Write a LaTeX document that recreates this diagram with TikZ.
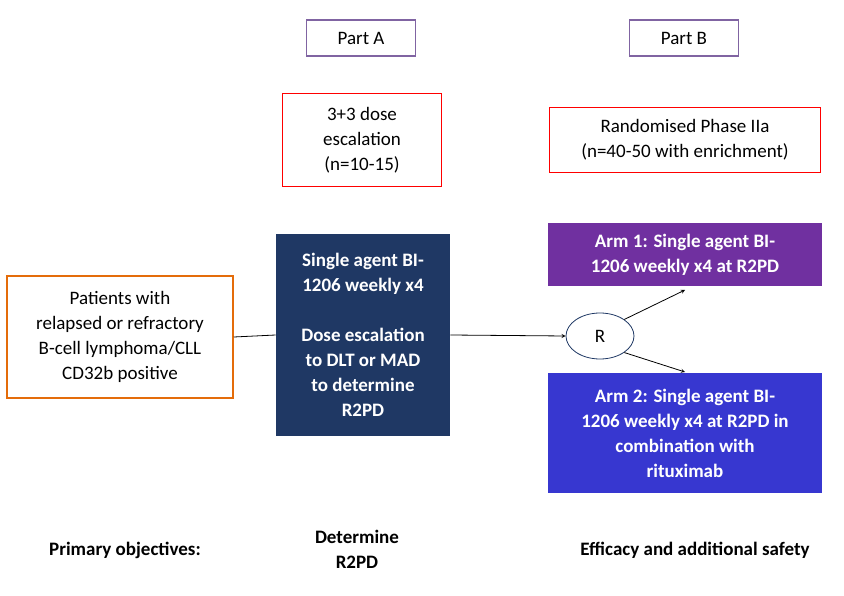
\documentclass[tikz,border=0pt]{standalone}
\usepackage{fontspec}
\setmainfont{Carlito}
\usetikzlibrary{positioning,shapes.geometric}
\definecolor{partpurple}{HTML}{8064A2}
\definecolor{navy}{HTML}{1F3864}
\definecolor{armone}{HTML}{7030A0}
\definecolor{armtwo}{HTML}{3737D0}
\definecolor{ptorange}{HTML}{E46C0A}
\begin{document}
\begin{tikzpicture}[x=1pt,y=-1pt,>=stealth,thick,font=\fontsize{19}{25}\selectfont]
  \tikzstyle{part}=[draw=partpurple,line width=1.5pt,minimum width=109pt,minimum height=36pt]
  \tikzstyle{design}=[draw=red,line width=1.5pt,align=center]
  \tikzstyle{filled}=[text=white,font=\fontsize{19}{25}\selectfont\bfseries,align=center]
  \useasboundingbox (0,0) rectangle (844,596);
  \node[part](partA) at (361,38){Part A};
  \node[part](partB) at (684,38){Part B};
  \node[design,minimum width=159pt,minimum height=93pt](esc) at (362,140){3+3 dose\\escalation\\(n=10-15)};
  \node[design,minimum width=271pt,minimum height=65pt](rand) at (685,140){Randomised Phase IIa\\(n=40-50 with enrichment)};
  \node[draw=ptorange,line width=1.5pt,align=center,minimum width=226pt,minimum height=122pt](pat) at (120,337){Patients with\\relapsed or refractory\\B-cell lymphoma/CLL\\CD32b positive};
  \node[filled,fill=navy,minimum width=174pt,minimum height=202pt](single) at (363,335){Single agent BI-\\1206 weekly x4\\[25pt]Dose escalation\\to DLT or MAD\\to determine\\R2PD};
  \node[filled,fill=armone,minimum width=274pt,minimum height=63pt](arm1) at (685,255){Arm 1: Single agent BI-\\1206 weekly x4 at R2PD};
  \node[filled,fill=armtwo,minimum width=274pt,minimum height=120pt](arm2) at (685,433){Arm 2: Single agent BI-\\1206 weekly x4 at R2PD in\\combination with\\rituximab};
  \node[draw=navy,thick,ellipse,minimum width=68pt,minimum height=46pt](r) at (600,336){R};
  \draw(pat.east)--(single.west);
  \draw[->](single.east)--(r.west);
  \draw[->](r.north east)--(685,290);
  \draw[->](r.south east)--(685,372);
  \node[font=\fontsize{19}{25}\selectfont\bfseries](obj) at (125,550){Primary objectives:};
  \node[font=\fontsize{19}{25}\selectfont\bfseries,align=center](det) at (357,549){Determine\\R2PD};
  \node[font=\fontsize{19}{25}\selectfont\bfseries](eff) at (695,550){Efficacy and additional safety};
\end{tikzpicture}
\end{document}
